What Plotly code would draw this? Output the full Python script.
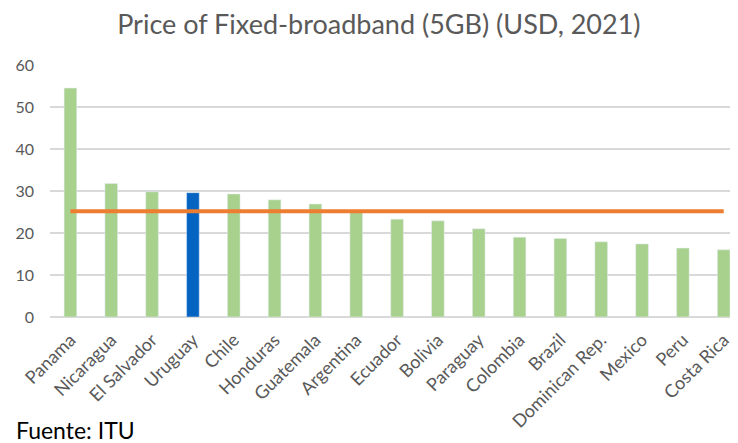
import plotly.graph_objects as go

countries = ["Panama", "Nicaragua", "El Salvador", "Uruguay", "Chile", "Honduras",
             "Guatemala", "Argentina", "Ecuador", "Bolivia", "Paraguay", "Colombia",
             "Brazil", "Dominican Rep.", "Mexico", "Peru", "Costa Rica"]
price = [54.5, 31.8, 29.8, 29.6, 29.3, 27.9, 26.9, 25.0, 23.3, 22.9, 21.0, 19.0,
         18.7, 17.9, 17.4, 16.4, 16.0]
average = [25.2] * len(countries)

colors = ["#0563C1" if c == "Uruguay" else "#A9D18E" for c in countries]

fig = go.Figure()
fig.add_trace(go.Bar(x=countries, y=price, marker=dict(color=colors), width=0.31,
                     showlegend=False))
fig.add_trace(go.Scatter(x=countries, y=average, mode="lines",
                         line=dict(color="#ED7D31", width=4), showlegend=False))

# page body has an 8px margin, so the figure is a bit smaller and shifted
fig.update_layout(
    width=730, height=435,
    margin=dict(l=42, r=0, t=57, b=126),
    paper_bgcolor="white", plot_bgcolor="white",
    font=dict(family="Lato", color="#595959"),
    title=dict(text="Price of Fixed-broadband (5GB) (USD, 2021)", x=0.508, xanchor="center",
               y=0.962, yanchor="middle", font=dict(size=27, color="#595959")),
    xaxis=dict(range=[-0.5, 16.35], tickangle=-45, tickfont=dict(size=18),
               showgrid=False, showline=False, ticks="", automargin=False,
               ticklabelstandoff=8),
    yaxis=dict(range=[0, 60], dtick=10, tickfont=dict(size=16), gridcolor="#D9D9D9",
               gridwidth=1.5, zeroline=True, zerolinecolor="#D9D9D9", zerolinewidth=1.5,
               ticklabelstandoff=15, automargin=False),
    annotations=[dict(text="Fuente: ITU", xref="paper", yref="paper", x=-0.053, y=-0.45,
                      xanchor="left", yanchor="middle", showarrow=False,
                      font=dict(size=23, color="black"))],
)

fig.write_html("out.html")
